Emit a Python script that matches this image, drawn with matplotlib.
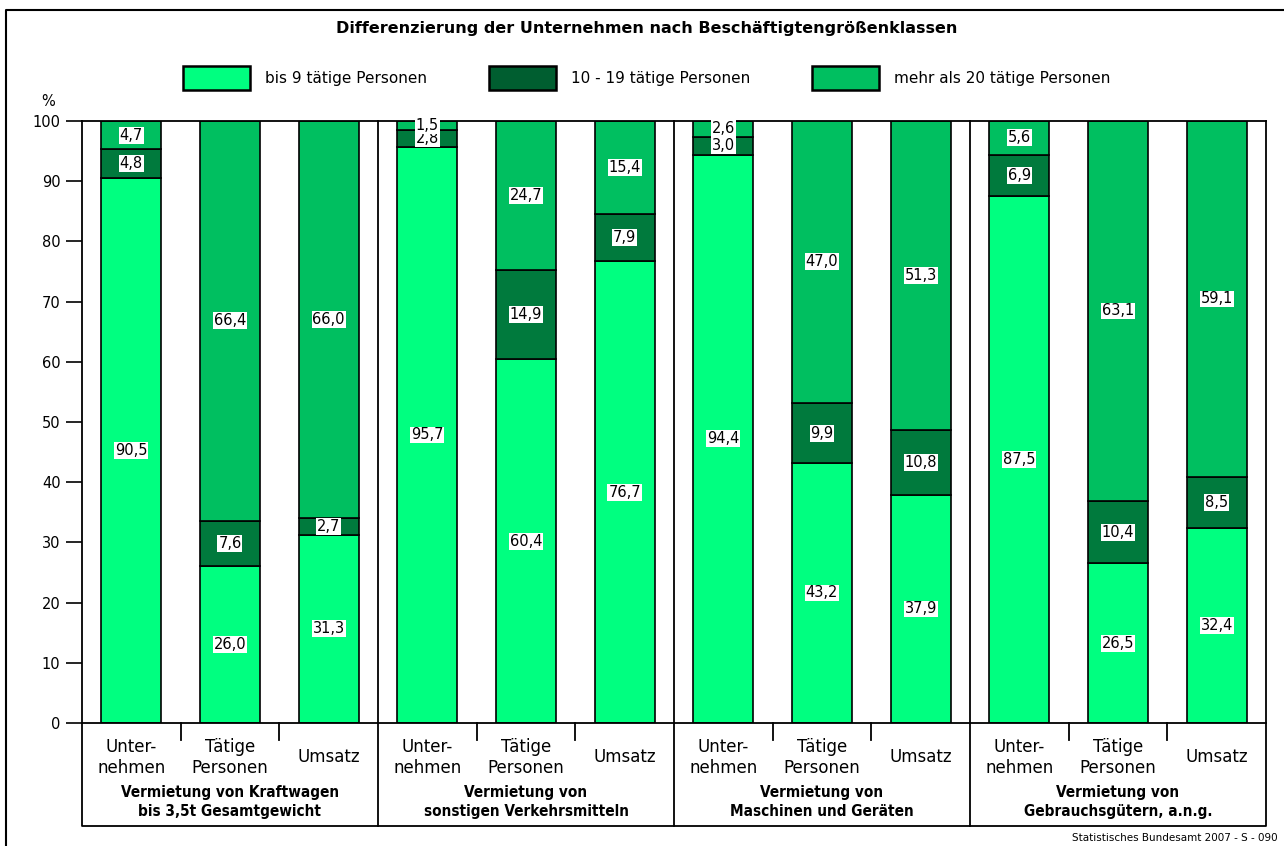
import matplotlib
matplotlib.use("Agg")
from matplotlib import pyplot as plt
from matplotlib.patches import Rectangle
from matplotlib.lines import Line2D

plt.rcParams['font.family'] = ['DejaVu Sans']

# Daten
gruppen = ['Vermietung von Kraftwagen\nbis 3,5t Gesamtgewicht',
           'Vermietung von\nsonstigen Verkehrsmitteln',
           'Vermietung von\nMaschinen und Geräten',
           'Vermietung von\nGebrauchsgütern, a.n.g.']
kategorien = ['Unter-\nnehmen', 'Tätige\nPersonen', 'Umsatz']
bis9 = [90.5, 26.0, 31.3, 95.7, 60.4, 76.7, 94.4, 43.2, 37.9, 87.5, 26.5, 32.4]
von10bis19 = [4.8, 7.6, 2.7, 2.8, 14.9, 7.9, 3.0, 9.9, 10.8, 6.9, 10.4, 8.5]
mehr20 = [4.7, 66.4, 66.0, 1.5, 24.7, 15.4, 2.6, 47.0, 51.3, 5.6, 63.1, 59.1]
serien = ['bis 9 tätige Personen', '10 - 19 tätige Personen', 'mehr als 20 tätige Personen']

farben = ['#00FF80', '#007A3D', '#00BF60']
farben_legende = ['#00FF80', '#005E30', '#00BF60']

fig = plt.figure(figsize=(12.84, 8.46), dpi=100)
ax = fig.add_axes([82/1284, 1-723/846, (1266-82)/1284, (723-121)/846])

x = list(range(len(bis9)))
unten = [0.0]*len(x)
for werte, farbe in zip([bis9, von10bis19, mehr20], farben):
    ax.bar(x, werte, width=0.61, bottom=unten, color=farbe, edgecolor='black', linewidth=1.2, zorder=2)
    for xi, w, u in zip(x, werte, unten):
        ax.text(xi, u + w/2, f'{w:.1f}'.replace('.', ','), ha='center', va='center', fontsize=10.5,
                bbox=dict(facecolor='white', edgecolor='none', pad=0.6), zorder=3)
    unten = [u + w for u, w in zip(unten, werte)]

ax.set_xlim(-0.5, 11.5)
ax.set_ylim(0, 100)
ax.set_yticks(range(0, 101, 10))
ax.tick_params(axis='y', direction='out', length=11.5, width=1.2, labelsize=10.5, pad=4)
ax.set_xticks([])
for s in ax.spines.values():
    s.set_linewidth(1.3)

trans = ax.get_xaxis_transform()
box_unten = -103/602
# Trennlinien der Gruppen
for g in [2.5, 5.5, 8.5]:
    ax.add_line(Line2D([g, g], [box_unten, 1], transform=trans, color='black', lw=1.3, clip_on=False))
# kleine Striche zwischen Kategorien
for g in [0.5, 1.5, 3.5, 4.5, 6.5, 7.5, 9.5, 10.5]:
    ax.add_line(Line2D([g, g], [0, -17/602], transform=trans, color='black', lw=1.3, clip_on=False))
# Kasten unten
ax.add_line(Line2D([-0.5, -0.5, 11.5, 11.5], [0, box_unten, box_unten, 0], transform=trans,
                   color='black', lw=1.3, clip_on=False))

for i, xi in enumerate(x):
    ax.text(xi, -0.057, kategorien[i % 3], transform=trans, ha='center', va='center',
            fontsize=12, linespacing=1.2)
for j, gname in enumerate(gruppen):
    ax.text(3*j + 1, -0.131, gname, transform=trans, ha='center', va='center',
            fontsize=11, fontweight='bold', linespacing=1.3, fontstretch='condensed')

fig.text(48/1284, 1-102/846, '%', ha='center', va='center', fontsize=10.5)

# Titel
fig.text(647/1284, 1-28/846, 'Differenzierung der Unternehmen nach Beschäftigtengrößenklassen',
         ha='center', va='center', fontsize=11.5, fontweight='bold')

# Legende
leg_x = [183, 489, 812]
for lx, farbe, name in zip(leg_x, farben_legende, serien):
    fig.add_artist(Rectangle((lx/1284, 1-90/846), 67/1284, 24/846, transform=fig.transFigure,
                             facecolor=farbe, edgecolor='black', linewidth=1.8))
    fig.text((lx+82)/1284, 1-78/846, name, ha='left', va='center', fontsize=11)

# Rahmen
fig.add_artist(Line2D([6/1284, 6/1284, 1], [0, 1-10/846, 1-10/846], transform=fig.transFigure,
                      color='black', lw=1.5))

fig.text(1278/1284, 1-838/846, 'Statistisches Bundesamt 2007 - S - 090', ha='right', va='center',
         fontsize=7.5)

fig.savefig('out.png', dpi=100)
